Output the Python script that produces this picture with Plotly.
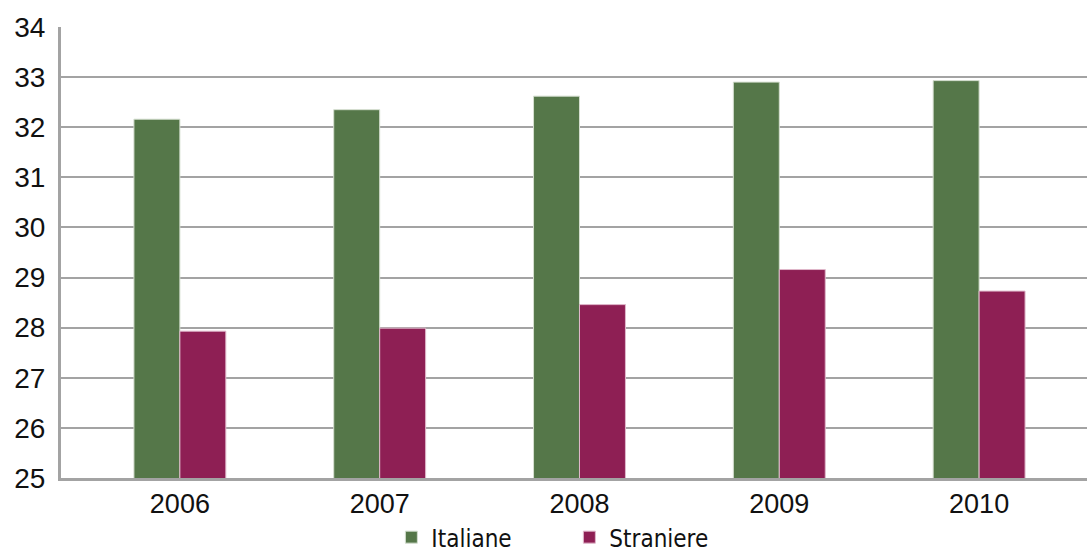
import plotly.graph_objects as go

# Età media delle madri al parto, per cittadinanza
anni = ["2006", "2007", "2008", "2009", "2010"]
italiane = [32.16, 32.35, 32.62, 32.90, 32.93]
straniere = [27.93, 27.99, 28.46, 29.16, 28.73]
y_ticks = [25, 26, 27, 28, 29, 30, 31, 32, 33, 34]

VERDE = "#557749"
PORPORA = "#8E1F54"
GRIGIO = "#A3A3A3"
FONT = "Liberation Sans"

fig = go.Figure()
fig.add_trace(go.Bar(
    x=anni, y=italiane, name="Italiane",
    marker=dict(color=VERDE, line=dict(color="#D5DFD0", width=1)),
))
fig.add_trace(go.Bar(
    x=anni, y=straniere, name="Straniere",
    marker=dict(color=PORPORA, line=dict(color="#E0B8CB", width=1)),
))

fig.update_layout(
    width=1087, height=552,
    margin=dict(l=61, r=0, t=27, b=74, autoexpand=False),
    paper_bgcolor="white", plot_bgcolor="white",
    barmode="group", bargap=0.54, bargroupgap=0,
    font=dict(family=FONT, size=26, color="#111111"),
    showlegend=True,
    legend=dict(
        orientation="h", x=0.322, xanchor="left", y=-0.132, yanchor="middle",
        font=dict(family="DejaVu Sans Condensed, Liberation Sans Narrow, " + FONT, size=24),
        entrywidth=133, entrywidthmode="pixels", itemwidth=30,
    ),
)
fig.update_xaxes(
    type="category", range=[-0.595, 4.54],
    showline=True, linecolor=GRIGIO, linewidth=3,
    showgrid=False, ticks="", tickfont=dict(size=27),
)
fig.update_yaxes(
    range=[25, 34], tickvals=y_ticks,
    showgrid=True, gridcolor=GRIGIO, gridwidth=2,
    showline=True, linecolor=GRIGIO, linewidth=3,
    zeroline=False, ticks="", ticklabelstandoff=7,
    tickfont=dict(size=28),
)

fig.write_html("out.html")
